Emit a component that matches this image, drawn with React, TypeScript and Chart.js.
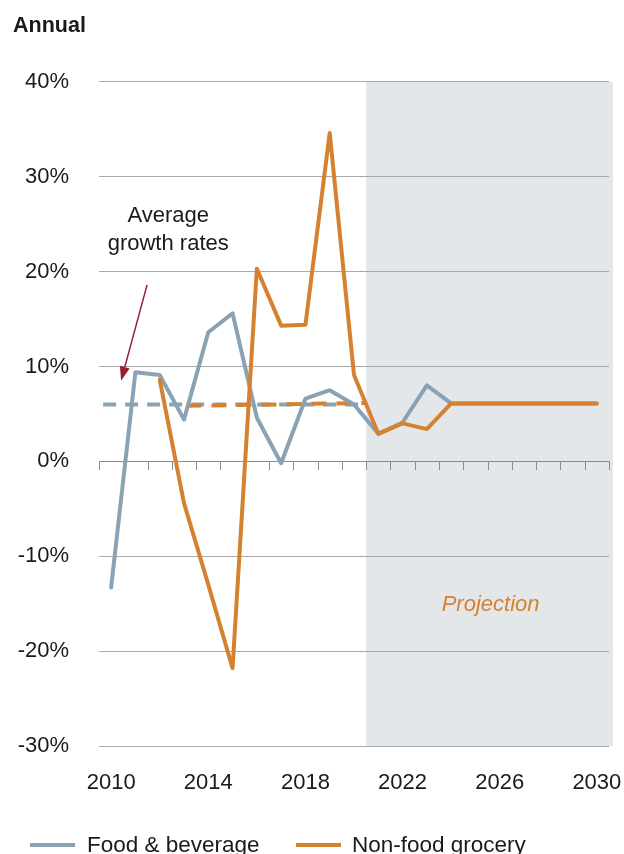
import React, { useEffect, useRef } from "react";
import { Chart, registerables } from "chart.js";

Chart.register(...registerables);

const FONT = "'Liberation Sans', Arial, Helvetica, sans-serif";

// ---- Data ----
const years = [
  "2010", "2011", "2012", "2013", "2014", "2015", "2016", "2017", "2018", "2019", "2020",
  "2021", "2022", "2023", "2024", "2025", "2026", "2027", "2028", "2029", "2030",
];

const foodBeverage = [
  -13.3, 9.4, 9.1, 4.4, 13.6, 15.6, 4.6, -0.2, 6.6, 7.5, 6.0,
  2.9, 4.1, 8.0, 6.1, 6.1, 6.1, 6.1, 6.1, 6.1, 6.1,
];

const nonFoodGrocery = [
  null, null, 8.6, -4.4, -13.0, -21.8, 20.3, 14.3, 14.4, 34.6, 9.1,
  2.9, 4.0, 3.4, 6.1, 6.1, 6.1, 6.1, 6.1, 6.1, 6.1,
];

// average growth-rate dashed lines (x in years, y in %)
const avgFoodBeverage = [
  { x: 2009.67, y: 6.0 },
  { x: 2020.44, y: 6.0 },
];
const avgNonFoodGrocery = [
  { x: 2013.1, y: 5.85 },
  { x: 2020.44, y: 6.15 },
];

const yMin = -30;
const yMax = 40;
const yStep = 10;
const labelEvery = 4;
const projectionStartYear = 2020.5;

const seriesNames = ["Food & beverage", "Non-food grocery"];
const BLUE = "#8aa3b4";
const ORANGE = "#d6812f";
const ARROW = "#9b1c31";

const decorPlugin = {
  id: "decor",
  beforeDraw(chart: any) {
    const { ctx, chartArea } = chart;
    const x2 = chart.scales.x2;
    const xs = x2.getPixelForValue(projectionStartYear);
    ctx.save();
    ctx.fillStyle = "#e4e7ea";
    ctx.fillRect(xs, chartArea.top, chartArea.right + 4 - xs, chartArea.bottom - chartArea.top);
    ctx.restore();
  },
  beforeDatasetsDraw(chart: any) {
    const { ctx } = chart;
    const x2 = chart.scales.x2;
    const y = chart.scales.y;
    const y0 = y.getPixelForValue(0);
    const first = parseInt(years[0], 10);
    ctx.save();
    ctx.strokeStyle = "#8c8c8c";
    ctx.lineWidth = 1;
    for (let i = 0; i <= years.length; i++) {
      const x = Math.round(x2.getPixelForValue(first - 0.5 + i)) + 0.5;
      ctx.beginPath();
      ctx.moveTo(x, Math.round(y0));
      ctx.lineTo(x, Math.round(y0) + 9);
      ctx.stroke();
    }

    // Projection label
    const xs = x2.getPixelForValue(projectionStartYear);
    const xe = chart.chartArea.right;
    ctx.fillStyle = ORANGE;
    ctx.font = `italic 22px ${FONT}`;
    ctx.textAlign = "center";
    ctx.textBaseline = "middle";
    ctx.fillText("Projection", (xs + xe) / 2 + 3, y.getPixelForValue(-15.1));

    // Annotation text
    ctx.fillStyle = "#1a1a1a";
    ctx.font = `22px ${FONT}`;
    const ax = x2.getPixelForValue(2012.35);
    ctx.fillText("Average", ax, y.getPixelForValue(25.9));
    ctx.fillText("growth rates", ax, y.getPixelForValue(22.9));

    // Arrow
    const sx = x2.getPixelForValue(2011.48);
    const sy = y.getPixelForValue(18.6);
    const tx = x2.getPixelForValue(2010.41);
    const ty = y.getPixelForValue(8.5);
    const ang = Math.atan2(ty - sy, tx - sx);
    const headLen = 14;
    const headW = 5;
    const bx = tx - headLen * Math.cos(ang);
    const by = ty - headLen * Math.sin(ang);
    ctx.strokeStyle = ARROW;
    ctx.fillStyle = ARROW;
    ctx.lineWidth = 1.5;
    ctx.beginPath();
    ctx.moveTo(sx, sy);
    ctx.lineTo(bx, by);
    ctx.stroke();
    ctx.beginPath();
    ctx.moveTo(tx, ty);
    ctx.lineTo(bx + headW * Math.sin(ang), by - headW * Math.cos(ang));
    ctx.lineTo(bx - headW * Math.sin(ang), by + headW * Math.cos(ang));
    ctx.closePath();
    ctx.fill();
    ctx.restore();
  },
};

export default function App() {
  const canvasRef = useRef<HTMLCanvasElement | null>(null);

  useEffect(() => {
    if (!canvasRef.current) return;
    const chart = new Chart(canvasRef.current, {
      type: "line",
      data: {
        labels: years,
        datasets: [
          {
            label: seriesNames[1],
            data: nonFoodGrocery,
            borderColor: ORANGE,
            backgroundColor: ORANGE,
            borderWidth: 4,
            borderJoinStyle: "round",
            borderCapStyle: "round",
            pointRadius: 0,
            tension: 0,
            spanGaps: false,
            order: 0,
          },
          {
            label: seriesNames[0],
            data: foodBeverage,
            borderColor: BLUE,
            backgroundColor: BLUE,
            borderWidth: 4,
            borderJoinStyle: "round",
            borderCapStyle: "round",
            pointRadius: 0,
            tension: 0,
            order: 1,
          },
          {
            label: "avg-nonfood",
            data: avgNonFoodGrocery as any,
            xAxisID: "x2",
            borderColor: ORANGE,
            borderWidth: 4,
            borderDash: [15, 10],
            pointRadius: 0,
            order: 2,
          },
          {
            label: "avg-food",
            data: avgFoodBeverage as any,
            xAxisID: "x2",
            borderColor: BLUE,
            borderWidth: 4,
            borderDash: [13, 9],
            pointRadius: 0,
            order: 3,
          },
        ],
      },
      options: {
        responsive: false,
        animation: false,
        layout: { padding: { left: 13, right: 15, top: 0, bottom: 58 } },
        plugins: {
          legend: { display: false },
          tooltip: { enabled: false },
          title: {
            display: true,
            text: "Annual",
            align: "start",
            color: "#1a1a1a",
            font: { family: FONT, size: 21.5, weight: "bold" },
            padding: { top: 13, bottom: 43 },
          },
        },
        scales: {
          x: {
            type: "category",
            offset: true,
            grid: { display: false, drawTicks: false },
            border: { display: false },
            ticks: {
              autoSkip: false,
              maxRotation: 0,
              padding: 24,
              color: "#1a1a1a",
              font: { family: FONT, size: 22 },
              callback: (_v: any, i: number) => (i % labelEvery === 0 ? years[i] : ""),
            },
            afterFit: (s: any) => {
              s.height = 50;
              s.paddingLeft = 0;
              s.paddingRight = 0;
            },
          },
          x2: {
            type: "linear",
            display: false,
            min: parseInt(years[0], 10) - 0.5,
            max: parseInt(years[years.length - 1], 10) + 0.5,
          },
          y: {
            min: yMin,
            max: yMax,
            border: { display: false },
            grid: {
              drawTicks: false,
              color: (c: any) => (c.tick && c.tick.value === 0 ? "#8c8c8c" : "#a9a9a9"),
              lineWidth: 1,
            },
            ticks: {
              stepSize: yStep,
              padding: 30,
              color: "#1a1a1a",
              font: { family: FONT, size: 22 },
              callback: (v: any) => `${v}%`,
            },
            afterFit: (s: any) => {
              s.width = 86;
            },
          },
        },
      },
      plugins: [decorPlugin],
    });
    return () => chart.destroy();
  }, []);

  const legendText: React.CSSProperties = {
    position: "absolute",
    top: 832,
    fontFamily: FONT,
    fontSize: 22.5,
    lineHeight: "26px",
    color: "#1a1a1a",
    whiteSpace: "nowrap",
  };
  const swatch: React.CSSProperties = {
    position: "absolute",
    top: 843,
    width: 45,
    height: 4,
  };

  return (
    <div style={{ position: "absolute", left: 0, top: 0, width: 624, height: 854, overflow: "hidden", background: "#fff" }}>
      <canvas ref={canvasRef} width={624} height={854} style={{ display: "block" }} />
      <div style={{ ...swatch, left: 30, background: BLUE }} />
      <div style={{ ...legendText, left: 87 }}>{seriesNames[0]}</div>
      <div style={{ ...swatch, left: 296, background: ORANGE }} />
      <div style={{ ...legendText, left: 352 }}>{seriesNames[1]}</div>
    </div>
  );
}
